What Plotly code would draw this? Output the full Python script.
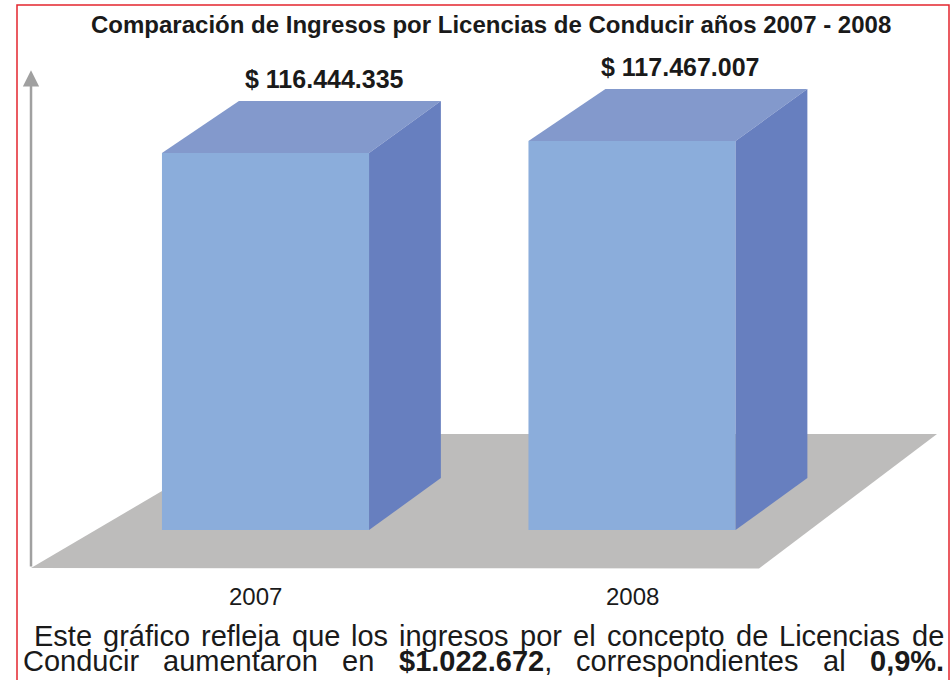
import plotly.graph_objects as go

# data
years = ["2007", "2008"]
ingresos = [116444335, 117467007]
value_labels = ["$ 116.444.335", "$ 117.467.007"]
title_text = "Comparación de Ingresos por Licencias de Conducir años 2007 - 2008"
line1_words = ["Este", "gráfico", "refleja", "que", "los", "ingresos", "por", "el",
               "concepto", "de", "Licencias", "de"]
line1_x = [33, 102, 200, 291, 350, 398, 519, 572, 606, 735, 778, 911]
line2_words = ["Conducir", "aumentaron", "en", "<b>$1.022.672</b>,", "correspondientes", "al", "<b>0,9%.</b>"]
line2_x = [22, 162, 341, 398, 575, 822, 869]

FONT = "Liberation Sans, Arial, sans-serif"
FRONT = "#8BADDB"
TOP = "#8399CC"
SIDE = "#677FBF"
FLOOR = "#BDBCBB"
INK = "#1a1a1a"

# pseudo 3d geometry (axis units)
base = 84.3e6
width = 0.565
depth_y = 4.43e6
dx_left = 0.21
dx_right = 0.196
spread = 0.03  # labels fan out a little, like the perspective of the original
pos = list(range(len(years)))

fig = go.Figure()

# front faces
fig.add_trace(go.Bar(
    x=pos, y=[v - base for v in ingresos], base=base, width=width,
    marker=dict(color=FRONT, line=dict(width=0)),
    hoverinfo="skip"
))

for p, v in zip(pos, ingresos):
    l = p - width / 2
    r = p + width / 2
    # top face
    fig.add_trace(go.Scatter(
        x=[l, r, r + dx_right, l + dx_left, l],
        y=[v, v, v + depth_y, v + depth_y, v],
        fill="toself", fillcolor=TOP, mode="lines",
        line=dict(width=0, color=TOP), hoverinfo="skip"
    ))
    # side face
    fig.add_trace(go.Scatter(
        x=[r, r + dx_right, r + dx_right, r, r],
        y=[v, v + depth_y, base + depth_y, base, v],
        fill="toself", fillcolor=SIDE, mode="lines",
        line=dict(width=0, color=SIDE), hoverinfo="skip"
    ))

# floor
fig.add_shape(type="path", layer="below", xref="x", yref="y",
              path="M -0.6398,81.06e6 L 1.3465,81.02e6 L 1.8322,92.49e6 L -0.0177,92.49e6 Z",
              fillcolor=FLOOR, line=dict(width=0))

# vertical arrow
fig.add_annotation(x=-0.6398, y=123.5e6, ax=-0.6398, ay=81.06e6, axref="x", ayref="y",
                   xref="x", yref="y", text="", showarrow=True,
                   arrowhead=2, arrowsize=1.3, arrowwidth=2.5, arrowcolor="#A0A0A0")

# value labels and years
for p, v, lab, yr in zip(pos, ingresos, value_labels, years):
    fig.add_annotation(x=p + 0.147 - spread * (p - 0.5), y=v + 6.35e6, text="<b>" + lab + "</b>",
                       showarrow=False, yanchor="middle",
                       font=dict(family=FONT, size=25, color=INK))
    fig.add_annotation(x=p - 0.013 + spread * (p - 0.5), y=78.6e6, text=yr,
                       showarrow=False, yanchor="middle",
                       font=dict(family=FONT, size=24, color=INK))

# title
fig.add_annotation(xref="paper", yref="paper", x=491 / 952, y=1 - 25 / 680,
                   xanchor="center", yanchor="middle",
                   text="<b>" + title_text + "</b>", showarrow=False,
                   font=dict(family=FONT, size=24, color=INK))

# bottom text, justified word by word
for words, xs, ypix in [(line1_words, line1_x, 636), (line2_words, line2_x, 661)]:
    for w, xp in zip(words, xs):
        fig.add_annotation(xref="paper", yref="paper", x=xp / 952, y=1 - ypix / 680,
                           xanchor="left", yanchor="middle", text=w, showarrow=False,
                           borderpad=0,
                           font=dict(family=FONT, size=29, color=INK))

# red frame
fig.add_shape(type="rect", xref="paper", yref="paper",
              x0=17 / 952, x1=949 / 952, y0=-0.05, y1=1 - 5 / 680,
              line=dict(color="#E3262E", width=1.5), fillcolor="rgba(0,0,0,0)")

fig.update_layout(
    width=952, height=680,
    margin=dict(l=0, r=0, t=0, b=0),
    paper_bgcolor="white", plot_bgcolor="white",
    showlegend=False, hovermode=False,
    xaxis=dict(range=[-0.7244, 1.8731], visible=False, fixedrange=True),
    yaxis=dict(range=[71.516e6, 129.487e6], visible=False, fixedrange=True),
)

fig.write_html("out.html", config={"displayModeBar": False},
               post_script="document.body.style.margin='0';")
